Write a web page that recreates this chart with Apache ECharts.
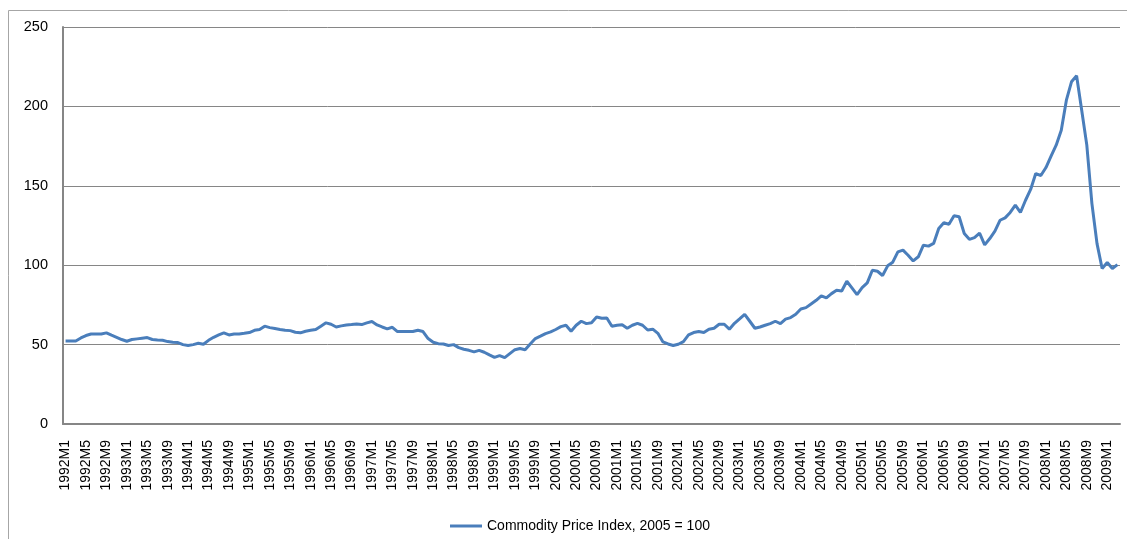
<!DOCTYPE html>
<html>
<head>
<meta charset="utf-8">
<script src="https://cdn.jsdelivr.net/npm/echarts@6/dist/echarts.min.js"></script>
<style>
  html, body { margin: 0; padding: 0; background: #fff; }
  #chart { width: 1127px; height: 539px; }
</style>
</head>
<body>
<div id="chart"></div>
<script>
// monthly categories, 1992M1 .. 2009M3
var startYear = 1992;
var monthCount = 207;
var categories = [];
for (var i = 0; i < monthCount; i++) {
  categories.push((startYear + Math.floor(i / 12)) + 'M' + (i % 12 + 1));
}

var seriesName = 'Commodity Price Index, 2005 = 100';

// values
var values1992_1995 = [
  52.3, 52.3, 52.3, 54.2, 55.7, 56.7, 56.7, 56.7, 57.4, 55.9, 54.6, 53.2,
  52.1, 53.2, 53.6, 54.0, 54.4, 53.2, 52.9, 52.7, 51.9, 51.5, 51.3, 50.0,
  49.4, 50.0, 50.8, 50.2, 52.7, 54.6, 56.1, 57.4, 56.1, 56.7, 56.7, 57.1,
  57.6, 59.0, 59.5, 61.6, 60.7, 60.1, 59.5, 59.0, 58.8, 57.8, 57.4, 58.4
];
var values1996_1999 = [
  59.0, 59.5, 61.6, 63.7, 62.8, 61.1, 61.8, 62.4, 62.6, 63.0, 62.6, 63.7,
  64.5, 62.4, 61.1, 59.9, 60.9, 58.2, 58.2, 58.2, 58.2, 59.0, 58.2, 53.8,
  51.5, 50.6, 50.4, 49.4, 50.0, 48.1, 47.1, 46.4, 45.4, 46.4, 45.2, 43.5,
  42.0, 43.1, 41.8, 44.3, 46.8, 47.5, 46.8, 50.4, 53.8, 55.3, 56.9, 58.0
];
var values2000_2003 = [
  59.5, 61.3, 62.2, 58.4, 62.2, 64.7, 63.2, 63.7, 67.4, 66.6, 66.8, 61.6,
  62.2, 62.5, 60.3, 62.2, 63.4, 62.2, 59.2, 59.7, 57.1, 51.7, 50.4, 49.4,
  50.2, 51.9, 56.1, 57.6, 58.2, 57.6, 59.7, 60.3, 62.8, 62.8, 59.7, 63.4,
  66.2, 69.1, 64.7, 60.3, 61.1, 62.2, 63.2, 64.7, 63.2, 66.0, 67.0, 69.1
];
var values2004_2007 = [
  72.4, 73.3, 75.6, 77.9, 80.7, 79.4, 82.1, 84.2, 83.8, 89.9, 85.7, 81.5,
  85.9, 88.9, 96.8, 96.2, 93.5, 99.6, 101.9, 108.4, 109.5, 106.3, 102.7, 105.3,
  112.6, 112.0, 113.7, 123.1, 126.7, 125.8, 131.1, 130.5, 120.0, 116.3, 117.4, 120.2,
  112.8, 116.8, 121.4, 128.3, 129.8, 133.2, 137.8, 133.2, 140.9, 147.7, 157.7, 156.5
];
var values2008_2009 = [
  161.5, 168.7, 175.6, 185.0, 203.9, 215.5, 219.3, 197.6, 175.6, 138.8, 113.6, 97.9,
  101.7, 97.9, 100.4
];

var values = [].concat(values1992_1995, values1996_1999, values2000_2003,
  values2004_2007, values2008_2009);

var yTicks = { min: 0, max: 250, interval: 50 };

var chart = echarts.init(document.getElementById('chart'));

var option = {
  backgroundColor: '#ffffff',
  animation: false,
  textStyle: { fontFamily: '"Liberation Sans", Arial, sans-serif' },
  graphic: [{
    type: 'rect',
    silent: true,
    shape: { x: 8.5, y: 10.5, width: 1200, height: 600 },
    style: { fill: 'none', stroke: '#a6a6a6', lineWidth: 1 }
  }],
  grid: { left: 63, right: 7, top: 27, bottom: 115, containLabel: false },
  legend: {
    data: [seriesName],
    left: 445,
    top: 514,
    icon: 'rect',
    itemWidth: 32,
    itemHeight: 3,
    itemGap: 4,
    textStyle: { fontSize: 14, color: '#000' }
  },
  xAxis: {
    type: 'category',
    data: categories,
    boundaryGap: true,
    axisLine: { show: true, lineStyle: { color: '#868686', width: 2 } },
    axisTick: { show: false },
    axisLabel: {
      interval: 3,
      rotate: 90,
      margin: 16,
      fontSize: 14,
      color: '#000'
    },
    splitLine: { show: false }
  },
  yAxis: {
    type: 'value',
    min: yTicks.min,
    max: yTicks.max,
    interval: yTicks.interval,
    axisLine: { show: true, lineStyle: { color: '#868686', width: 2 } },
    axisTick: { show: false },
    axisLabel: { margin: 15, fontSize: 14.5, color: '#000' },
    splitLine: { show: true, lineStyle: { color: '#868686', width: 1 } }
  },
  series: [{
    name: seriesName,
    type: 'line',
    data: values,
    symbol: 'none',
    lineStyle: { color: '#4a7ebb', width: 3 },
    itemStyle: { color: '#4a7ebb' }
  }]
};

chart.setOption(option);
</script>
</body>
</html>
